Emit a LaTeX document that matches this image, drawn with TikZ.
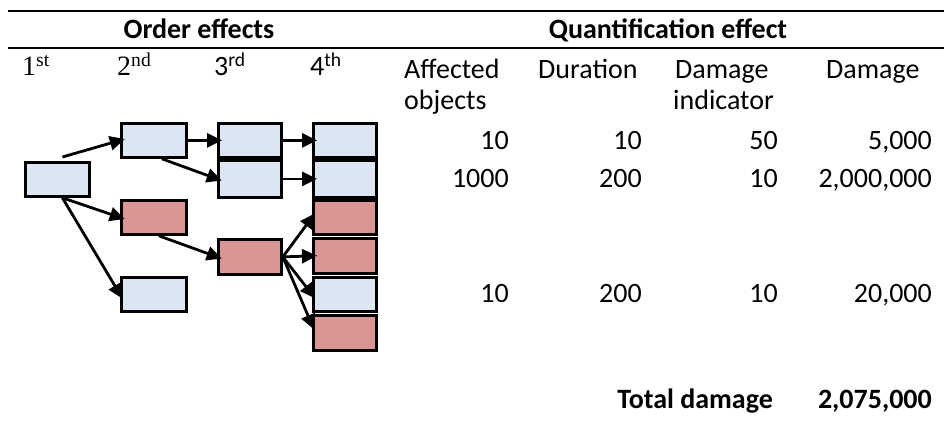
\documentclass[tikz,border=0pt]{standalone}
\usepackage{fontspec}
\setmainfont{Carlito}
\newfontfamily\timesfont{Liberation Serif}
\usetikzlibrary{arrows.meta,positioning,calc}
\definecolor{paleblue}{HTML}{DCE6F2}
\definecolor{palered}{HTML}{D99694}
\tikzset{
  box/.style  = {draw, line width=2.8pt, minimum width=64pt, minimum height=34pt,
                 inner sep=0pt, anchor=north west},
  bbox/.style = {box, fill=paleblue},
  rbox/.style = {box, fill=palered},
  e/.style    = {-{Triangle[length=15pt,width=14pt]}, line width=2.8pt, shorten >=-5pt},
  rule/.style = {line width=2.4pt},
  head/.style = {font=\bfseries, anchor=base},
  lbl/.style  = {anchor=base west, inner sep=0pt},
  num/.style  = {anchor=base east, inner sep=0pt}
}

\begin{document}
\fontsize{28}{34}\selectfont
\begin{tikzpicture}[x=1pt,y=-1pt]
  \useasboundingbox (0,0) rectangle (944,425);
  % rules and headings
  \draw[rule] (8,11) -- (944,11);
  \draw[rule] (8,48) -- (944,48);
  \node[head] (hord) at (199,39) {Order effects};
  \node[head] (hqnt) at (668,38.5) {Quantification effect};
  \node[lbl] (o1) at (22,76)  {\timesfont 1\textsuperscript{st}};
  \node[lbl] (o2) at (117,76) {\timesfont 2\textsuperscript{nd}};
  \node[lbl] (o3) at (214,76) {3\textsuperscript{rd}};
  \node[lbl] (o4) at (310,76) {4\textsuperscript{th}};
  % the chain of effects
  \node[bbox] (b1)  at (24,161)  {};
  \node[bbox, minimum width=65pt] (b2a) at (120,122) {};
  \node[rbox, minimum width=65pt] (b2b) at (120,199) {};
  \node[bbox, minimum width=65pt] (b2c) at (120,276) {};
  \node[bbox, minimum width=63pt] (b3a) at (217,122) {};
  \node[bbox, minimum width=63pt, minimum height=37pt] (b3b) at (217,159) {};
  \node[rbox, minimum width=63pt, minimum height=35pt] (b3c) at (217,238) {};
  \node[bbox, minimum width=63pt] (b4a) at (312,122) {};
  \node[bbox, minimum width=63pt, minimum height=37pt] (b4b) at (312,159) {};
  \node[rbox, minimum width=63pt] (b4c) at (312,199) {};
  \node[rbox, minimum width=63pt, minimum height=35pt] (b4d) at (312,237) {};
  \node[bbox, minimum width=63pt] (b4e) at (312,276) {};
  \node[rbox, minimum width=63pt, minimum height=35pt] (b4f) at (312,314) {};
  \draw[e] ([xshift=5pt,yshift=4pt]b1.north) -- (b2a.west);
  \draw[e] ([xshift=5pt]b1.south) -- (b2b.west);
  \draw[e] ([xshift=5pt]b1.south) -- (b2c.west);
  \draw[e] (b2a.east) -- (b3a.west);
  \draw[e] ([xshift=8pt]b2a.south) -- (b3b.west);
  \draw[e] ([xshift=5pt]b2b.south) -- (b3c.west);
  \draw[e] (b3a.east) -- (b4a.west);
  \draw[e] (b3b.east) -- (b4b.west);
  \draw[e] (b3c.east) -- (b4c.west);
  \draw[e] (b3c.east) -- (b4d.west);
  \draw[e] (b3c.east) -- (b4e.west);
  \draw[e] (b3c.east) -- ([yshift=8pt]b4f.west);
  % quantification table
  \node[lbl] (caff) at (404,79)  {Affected};
  \node[lbl] (cobj) at (404,110) {objects};
  \node[lbl] (cdur) at (538,79)  {Duration};
  \node[lbl] (cdmg) at (675,79)  {Damage};
  \node[lbl] (cind) at (673,110) {indicator};
  \node[lbl] (ctot) at (826,79)  {Damage};
  \node[num] (r1a) at (509,149) {10};
  \node[num] (r1b) at (642,149) {10};
  \node[num] (r1c) at (778,149) {50};
  \node[num] (r1d) at (932,149) {5,000};
  \node[num] (r2a) at (509,187) {1000};
  \node[num] (r2b) at (642,187) {200};
  \node[num] (r2c) at (778,187) {10};
  \node[num] (r2d) at (932,187) {2,000,000};
  \node[num] (r3a) at (509,302) {10};
  \node[num] (r3b) at (642,302) {200};
  \node[num] (r3c) at (778,302) {10};
  \node[num] (r3d) at (932,302) {20,000};
  \node[num, font=\bfseries] (tlbl) at (773,408) {Total damage};
  \node[num, font=\bfseries] (tval) at (932,408) {2,075,000};
\end{tikzpicture}
\end{document}
